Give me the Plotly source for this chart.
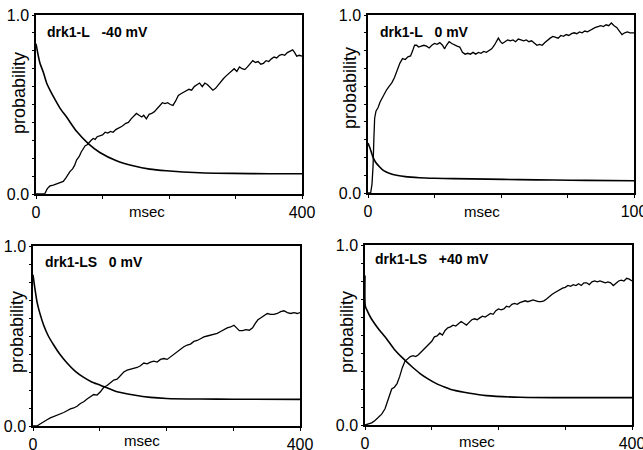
import plotly.graph_objects as go

# ---------------- data ----------------
titles = ["drk1-L   -40 mV", "drk1-L   0 mV", "drk1-LS   0 mV", "drk1-LS   +40 mV"]
x_max = [400, 100, 400, 400]

p1_decay_x = [0, 3, 6, 11, 16, 21, 26, 36, 46, 61, 79, 96, 121, 146, 171, 196, 246, 296, 350, 400]
p1_decay_y = [0.84, 0.78, 0.73, 0.68, 0.62, 0.58, 0.545, 0.48, 0.43, 0.35, 0.28, 0.232, 0.186, 0.158, 0.139, 0.13, 0.119, 0.115, 0.113, 0.113]
p1_rise_x = [0, 13, 17, 21, 26, 31, 36, 41, 45, 48, 51, 55, 58, 61, 65, 68, 71, 74, 77, 80, 83, 86, 89, 92, 96, 100,
             104, 108, 112, 116, 120, 125, 130, 135, 139, 143, 147, 151, 155, 159, 162, 166, 170, 174, 178, 182, 186,
             190, 194, 198, 202, 206, 210, 214, 218, 222, 226, 230, 234, 238, 242, 246, 250, 254, 258, 262, 266, 270,
             274, 278, 282, 286, 290, 294, 298, 302, 306, 310, 314, 318, 322, 326, 330, 334, 338, 342, 346, 350, 354,
             358, 362, 366, 370, 374, 378, 382, 386, 389, 392, 396, 400]
p1_rise_y = [0, 0, 0.03, 0.045, 0.05, 0.058, 0.062, 0.07, 0.09, 0.11, 0.125, 0.14, 0.16, 0.19, 0.21, 0.235, 0.25, 0.27,
             0.275, 0.29, 0.30, 0.31, 0.305, 0.32, 0.325, 0.33, 0.345, 0.34, 0.35, 0.345, 0.36, 0.37, 0.38, 0.395, 0.40,
             0.42, 0.435, 0.45, 0.44, 0.43, 0.44, 0.42, 0.445, 0.45, 0.46, 0.475, 0.49, 0.51, 0.505, 0.51, 0.50, 0.495,
             0.52, 0.55, 0.56, 0.57, 0.575, 0.585, 0.58, 0.60, 0.61, 0.62, 0.60, 0.62, 0.61, 0.595, 0.58, 0.59, 0.61,
             0.63, 0.645, 0.66, 0.675, 0.69, 0.70, 0.685, 0.71, 0.70, 0.695, 0.71, 0.73, 0.745, 0.735, 0.74, 0.725,
             0.73, 0.745, 0.74, 0.755, 0.765, 0.76, 0.775, 0.78, 0.775, 0.79, 0.80, 0.805, 0.79, 0.77, 0.775, 0.77]

p2_decay_x = [0, 0.8, 1.9, 3.0, 4.4, 5.5, 6.9, 8.5, 10.7, 14, 19.4, 25, 32, 45, 57, 70, 82, 100]
p2_decay_y = [0.28, 0.25, 0.20, 0.17, 0.146, 0.13, 0.118, 0.108, 0.10, 0.092, 0.086, 0.083, 0.081, 0.078, 0.075, 0.073, 0.071, 0.069]
p2_rise_x = [0, 1.0, 1.5, 1.9, 2.2, 2.5, 3.0, 3.8, 4.5, 5.2, 6.0, 7.0, 8.0, 9.0, 10.0, 11.0, 12.0, 13.0, 14.0, 15.0,
             16.0, 16.8, 17.5, 18.3, 19.0, 20.0, 21.0, 22.0, 23.0, 24.0, 25.0, 26.0, 27.0, 28.0, 28.8, 29.5, 30.5,
             31.5, 32.5, 33.5, 34.5, 35.5, 36.5, 37.5, 38.5, 39.5, 40.5, 41.5, 42.5, 43.5, 44.5, 45.5, 46.5, 47.5,
             48.2, 49.0, 49.8, 50.5, 51.5, 52.5, 53.5, 54.5, 55.5, 56.5, 57.5, 58.5, 59.5, 60.5, 61.5, 62.5, 63.5,
             64.5, 65.5, 66.5, 67.5, 68.5, 69.5, 70.5, 71.5, 72.5, 73.5, 74.5, 75.5, 76.5, 77.5, 78.5, 79.5, 80.5,
             81.5, 82.5, 83.5, 84.5, 85.5, 86.5, 87.5, 88.5, 89.5, 90.5, 91.5, 92.5, 93.5, 94.5, 95.5, 96.5, 97.5,
             98.5, 100]
p2_rise_y = [0, 0.0, 0.05, 0.15, 0.30, 0.42, 0.46, 0.48, 0.51, 0.53, 0.55, 0.58, 0.60, 0.62, 0.65, 0.69, 0.73, 0.755,
             0.75, 0.765, 0.77, 0.80, 0.83, 0.83, 0.82, 0.825, 0.83, 0.825, 0.815, 0.83, 0.84, 0.835, 0.845, 0.83,
             0.81, 0.83, 0.85, 0.84, 0.83, 0.825, 0.82, 0.79, 0.78, 0.785, 0.78, 0.79, 0.78, 0.79, 0.785, 0.795, 0.79,
             0.80, 0.81, 0.83, 0.85, 0.87, 0.85, 0.84, 0.85, 0.86, 0.855, 0.86, 0.85, 0.865, 0.86, 0.855, 0.86, 0.85,
             0.855, 0.84, 0.83, 0.835, 0.83, 0.845, 0.86, 0.87, 0.88, 0.875, 0.87, 0.885, 0.88, 0.89, 0.885, 0.895,
             0.90, 0.895, 0.905, 0.90, 0.91, 0.905, 0.915, 0.92, 0.93, 0.935, 0.94, 0.935, 0.945, 0.94, 0.955, 0.94,
             0.93, 0.91, 0.89, 0.90, 0.905, 0.90, 0.90]

p3_decay_x = [0, 3, 6, 10, 16, 23, 31, 40, 51, 63, 76, 88, 101, 126, 151, 176, 200, 250, 300, 400]
p3_decay_y = [0.84, 0.76, 0.69, 0.63, 0.56, 0.50, 0.45, 0.40, 0.35, 0.305, 0.27, 0.245, 0.227, 0.19, 0.172, 0.159, 0.153, 0.15, 0.149, 0.148]
p3_rise_x = [0, 6, 10, 16, 21, 26, 31, 36, 41, 46, 51, 56, 61, 66, 71, 76, 81, 86, 91, 96, 101, 106, 111, 116, 121,
             126, 131, 136, 141, 146, 151, 156, 161, 166, 171, 176, 181, 186, 191, 196, 201, 206, 211, 216, 221, 226,
             231, 236, 241, 246, 251, 256, 261, 266, 271, 276, 281, 286, 291, 296, 301, 305, 309, 314, 319, 324, 329,
             333, 337, 341, 346, 351, 356, 361, 366, 371, 376, 381, 386, 391, 396, 400]
p3_rise_y = [0, 0, 0.01, 0.025, 0.035, 0.045, 0.052, 0.06, 0.066, 0.075, 0.085, 0.095, 0.10, 0.11, 0.125, 0.135, 0.15,
             0.163, 0.175, 0.172, 0.19, 0.215, 0.225, 0.24, 0.255, 0.26, 0.28, 0.30, 0.31, 0.315, 0.32, 0.325, 0.335,
             0.35, 0.345, 0.355, 0.36, 0.355, 0.37, 0.375, 0.37, 0.385, 0.395, 0.41, 0.43, 0.44, 0.45, 0.455, 0.47,
             0.475, 0.485, 0.495, 0.50, 0.505, 0.51, 0.515, 0.525, 0.535, 0.545, 0.55, 0.56, 0.545, 0.53, 0.53, 0.535,
             0.532, 0.545, 0.57, 0.59, 0.60, 0.615, 0.625, 0.62, 0.62, 0.625, 0.635, 0.64, 0.63, 0.625, 0.63, 0.625,
             0.63]

p4_decay_x = [0, 0.5, 4, 8, 12.5, 20, 32, 44, 57, 70, 82, 95, 107, 120, 132, 157, 182, 232, 282, 400]
p4_decay_y = [0.83, 0.66, 0.63, 0.60, 0.574, 0.535, 0.48, 0.42, 0.37, 0.325, 0.287, 0.255, 0.23, 0.21, 0.194, 0.176, 0.163, 0.154, 0.152, 0.152]
p4_rise_x = [0, 5, 10, 15, 20, 25, 30, 34, 37, 40, 44, 48, 52, 56, 60, 64, 68, 72, 76, 80, 84, 88, 92, 96, 100, 104,
             108, 112, 116, 120, 124, 128, 132, 136, 140, 144, 148, 152, 156, 160, 164, 168, 172, 176, 180, 184, 188,
             192, 196, 200, 204, 208, 212, 216, 220, 224, 228, 232, 236, 240, 244, 248, 252, 256, 260, 264, 268, 272,
             276, 280, 284, 288, 292, 296, 300, 304, 308, 312, 316, 320, 324, 328, 332, 336, 340, 344, 348, 352, 356,
             360, 364, 368, 372, 376, 380, 384, 388, 392, 396, 400]
p4_rise_y = [0, 0.005, 0.012, 0.025, 0.04, 0.06, 0.09, 0.13, 0.17, 0.20, 0.21, 0.23, 0.27, 0.32, 0.355, 0.37, 0.38,
             0.385, 0.38, 0.39, 0.405, 0.42, 0.43, 0.45, 0.465, 0.49, 0.495, 0.51, 0.50, 0.525, 0.54, 0.545, 0.555,
             0.55, 0.565, 0.575, 0.565, 0.555, 0.57, 0.585, 0.59, 0.585, 0.595, 0.605, 0.60, 0.61, 0.62, 0.615, 0.635,
             0.645, 0.64, 0.645, 0.66, 0.655, 0.67, 0.675, 0.67, 0.68, 0.685, 0.69, 0.685, 0.69, 0.695, 0.69, 0.685,
             0.685, 0.69, 0.70, 0.715, 0.725, 0.735, 0.745, 0.755, 0.76, 0.765, 0.775, 0.77, 0.78, 0.775, 0.785, 0.775,
             0.79, 0.79, 0.78, 0.795, 0.80, 0.795, 0.80, 0.795, 0.79, 0.795, 0.79, 0.775, 0.79, 0.80, 0.805, 0.80,
             0.815, 0.81, 0.80]

y_tickvals = [0, 0.1, 0.2, 0.3, 0.4, 0.5, 0.6, 0.7, 0.8, 0.9, 1.0]
y_ticktext = ["0.0", "", "", "", "", "", "", "", "", "", "1.0"]

panels = [
    (p1_decay_x, p1_decay_y, p1_rise_x, p1_rise_y),
    (p2_decay_x, p2_decay_y, p2_rise_x, p2_rise_y),
    (p3_decay_x, p3_decay_y, p3_rise_x, p3_rise_y),
    (p4_decay_x, p4_decay_y, p4_rise_x, p4_rise_y),
]

# ---------------- layout geometry (pixels) ----------------
W, H = 643, 450
boxes = [(36, 302, 15, 194), (368, 634, 15, 193), (33, 300, 246, 426), (365, 632, 245, 425)]
prob_pos = [(19, 93), (350, 88), (17, 332), (347, 332)]
msec_pos = [(147, 212), (482, 212), (142, 440), (477, 441)]
title_pos = [(45, 32), (378, 32), (43, 262), (373, 259)]

FONT = "Liberation Sans, Arial, Helvetica, sans-serif"

fig = go.Figure()
annotations = []
layout = dict(width=W, height=H, margin=dict(l=0, r=0, t=0, b=0, autoexpand=False),
              paper_bgcolor="white", plot_bgcolor="white", showlegend=False,
              font=dict(family=FONT, color="black", size=16))

for i, (dx, dy, rx, ry) in enumerate(panels):
    n = i + 1
    xa = "x" if n == 1 else f"x{n}"
    ya = "y" if n == 1 else f"y{n}"
    fig.add_trace(go.Scatter(x=dx, y=dy, mode="lines", line=dict(color="black", width=1.6, shape="spline", smoothing=0.6),
                             xaxis=xa, yaxis=ya, hoverinfo="skip", cliponaxis=False))
    fig.add_trace(go.Scatter(x=rx, y=ry, mode="lines", line=dict(color="black", width=1.3),
                             xaxis=xa, yaxis=ya, hoverinfo="skip"))
    x0, x1, y0, y1 = boxes[i]
    xm = x_max[i]
    layout["xaxis" if n == 1 else f"xaxis{n}"] = dict(
        domain=[x0 / W, x1 / W], anchor=ya, range=[0, xm], automargin=False,
        tickvals=[0, xm * 0.25, xm * 0.5, xm * 0.75, xm],
        ticktext=["0", "", "", "", str(xm)], ticklabeloverflow="allow",
        ticks="outside", ticklen=3, tickwidth=1.2, tickcolor="black",
        showline=True, linecolor="black", linewidth=2, mirror=True,
        showgrid=False, zeroline=False, tickfont=dict(size=16, family=FONT),
        fixedrange=True)
    layout["yaxis" if n == 1 else f"yaxis{n}"] = dict(
        domain=[1 - y1 / H, 1 - y0 / H], anchor=xa, range=[0, 1], automargin=False,
        tickvals=y_tickvals, ticktext=y_ticktext, ticklabeloverflow="allow",
        ticks="outside", ticklen=2, tickwidth=1, tickcolor="black",
        showline=True, linecolor="black", linewidth=1.5, mirror=True,
        showgrid=False, zeroline=False, tickfont=dict(size=16, family=FONT),
        fixedrange=True)
    px, py = prob_pos[i]
    annotations.append(dict(text="probability", x=px / W, y=1 - py / H, xref="paper", yref="paper",
                            textangle=-90, showarrow=False, font=dict(size=18, family=FONT),
                            xanchor="center", yanchor="middle"))
    mx, my = msec_pos[i]
    annotations.append(dict(text="msec", x=mx / W, y=1 - my / H, xref="paper", yref="paper",
                            showarrow=False, font=dict(size=15, family=FONT),
                            xanchor="center", yanchor="middle"))
    tx, ty = title_pos[i]
    annotations.append(dict(text="<b>" + titles[i].replace(" ", "&nbsp;") + "</b>", x=tx / W, y=1 - ty / H,
                            xref="paper", yref="paper", showarrow=False,
                            font=dict(size=14, family=FONT), xanchor="left", yanchor="middle"))

layout["annotations"] = annotations
fig.update_layout(**layout)
fig.write_html("out.html", config={"displayModeBar": False},
               post_script="document.body.style.margin='0';document.body.style.overflow='hidden';")
